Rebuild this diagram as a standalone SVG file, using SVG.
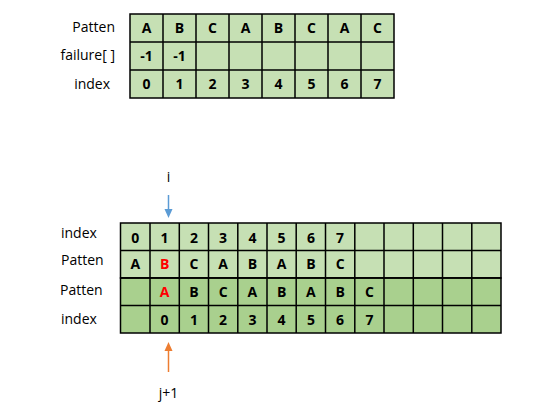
<svg xmlns="http://www.w3.org/2000/svg" width="550" height="417" viewBox="0 0 550 417">
<style>
.lbl{font-family:"Open Sans","Liberation Sans",sans-serif;font-size:14px;fill:#000}
.c{font-family:"Open Sans","Liberation Sans",sans-serif;font-size:14px;font-weight:bold;fill:#000;text-anchor:middle}
.r{fill:#ff0000}
.g1{fill:#c6e0b4;stroke:#000;stroke-width:1.5}
.g2{fill:#a9d08e;stroke:#000;stroke-width:1.5}
</style>
<rect width="550" height="417" fill="#fff"/>
<g id="top-table">
<g id="top-labels">
<text class="lbl" x="115" y="32" text-anchor="end">Patten</text>
<text class="lbl" x="115" y="60" text-anchor="end">failure[ ]</text>
<text class="lbl" x="110" y="89" text-anchor="end">index</text>
</g>
<g id="top-cells">
<rect class="g1" x="130" y="14" width="264" height="84"/>
<path d="M163 14V98M196 14V98M229 14V98M262 14V98M295 14V98M328 14V98M361 14V98M130 42H394M130 70H394" stroke="#000" stroke-width="1.5" fill="none"/>
<text class="c" x="146.5" y="33">A</text><text class="c" x="179.5" y="33">B</text><text class="c" x="212.5" y="33">C</text><text class="c" x="245.5" y="33">A</text><text class="c" x="278.5" y="33">B</text><text class="c" x="311.5" y="33">C</text><text class="c" x="344.5" y="33">A</text><text class="c" x="377.5" y="33">C</text>
<text class="c" x="146.5" y="61">-1</text><text class="c" x="179.5" y="61">-1</text>
<text class="c" x="146.5" y="89">0</text><text class="c" x="179.5" y="89">1</text><text class="c" x="212.5" y="89">2</text><text class="c" x="245.5" y="89">3</text><text class="c" x="278.5" y="89">4</text><text class="c" x="311.5" y="89">5</text><text class="c" x="344.5" y="89">6</text><text class="c" x="377.5" y="89">7</text>
</g>
</g>
<g id="bottom-table">
<g id="bottom-labels">
<text class="lbl" x="61" y="238">index</text>
<text class="lbl" x="61" y="265">Patten</text>
<text class="lbl" x="60" y="295">Patten</text>
<text class="lbl" x="61" y="324">index</text>
</g>
<g id="bottom-cells">
<rect class="g1" x="120.5" y="223" width="380.5" height="55"/>
<rect class="g2" x="120.5" y="278" width="380.5" height="55"/>
<path d="M150 223V333M179.3 223V333M208.5 223V333M237.8 223V333M267 223V333M296.2 223V333M325.5 223V333M354.8 223V333M384 223V333M413.3 223V333M442.5 223V333M471.8 223V333M120.5 250.5H501M120.5 278H501M120.5 305.5H501" stroke="#000" stroke-width="1.5" fill="none"/>
<text class="c" x="135.3" y="243">0</text><text class="c" x="164.6" y="243">1</text><text class="c" x="193.9" y="243">2</text><text class="c" x="223.1" y="243">3</text><text class="c" x="252.4" y="243">4</text><text class="c" x="281.6" y="243">5</text><text class="c" x="310.9" y="243">6</text><text class="c" x="340.1" y="243">7</text>
<text class="c" x="135.3" y="269">A</text><text class="c r" x="164.6" y="269">B</text><text class="c" x="193.9" y="269">C</text><text class="c" x="223.1" y="269">A</text><text class="c" x="252.4" y="269">B</text><text class="c" x="281.6" y="269">A</text><text class="c" x="310.9" y="269">B</text><text class="c" x="340.1" y="269">C</text>
<text class="c r" x="164.6" y="297">A</text><text class="c" x="193.9" y="297">B</text><text class="c" x="223.1" y="297">C</text><text class="c" x="252.4" y="297">A</text><text class="c" x="281.6" y="297">B</text><text class="c" x="310.9" y="297">A</text><text class="c" x="340.1" y="297">B</text><text class="c" x="369.4" y="297">C</text>
<text class="c" x="164.6" y="325">0</text><text class="c" x="193.9" y="325">1</text><text class="c" x="223.1" y="325">2</text><text class="c" x="252.4" y="325">3</text><text class="c" x="281.6" y="325">4</text><text class="c" x="310.9" y="325">5</text><text class="c" x="340.1" y="325">6</text><text class="c" x="369.4" y="325">7</text>
</g>
</g>
<g id="pointer-i">
<text class="lbl" x="168.5" y="182" text-anchor="middle">i</text>
</g>
<g id="pointer-j">
<text class="lbl" x="168.5" y="398" text-anchor="middle">j+1</text>
</g>
<g id="connectors">
<line x1="168.5" y1="195" x2="168.5" y2="210" stroke="#5b9bd5" stroke-width="1.5"/>
<path d="M164.5 209 L172.5 209 L168.5 218 Z" fill="#5b9bd5"/>
<line x1="168.5" y1="372" x2="168.5" y2="350" stroke="#ed7d31" stroke-width="1.5"/>
<path d="M164.5 351 L172.5 351 L168.5 342 Z" fill="#ed7d31"/>
</g>
</svg>
